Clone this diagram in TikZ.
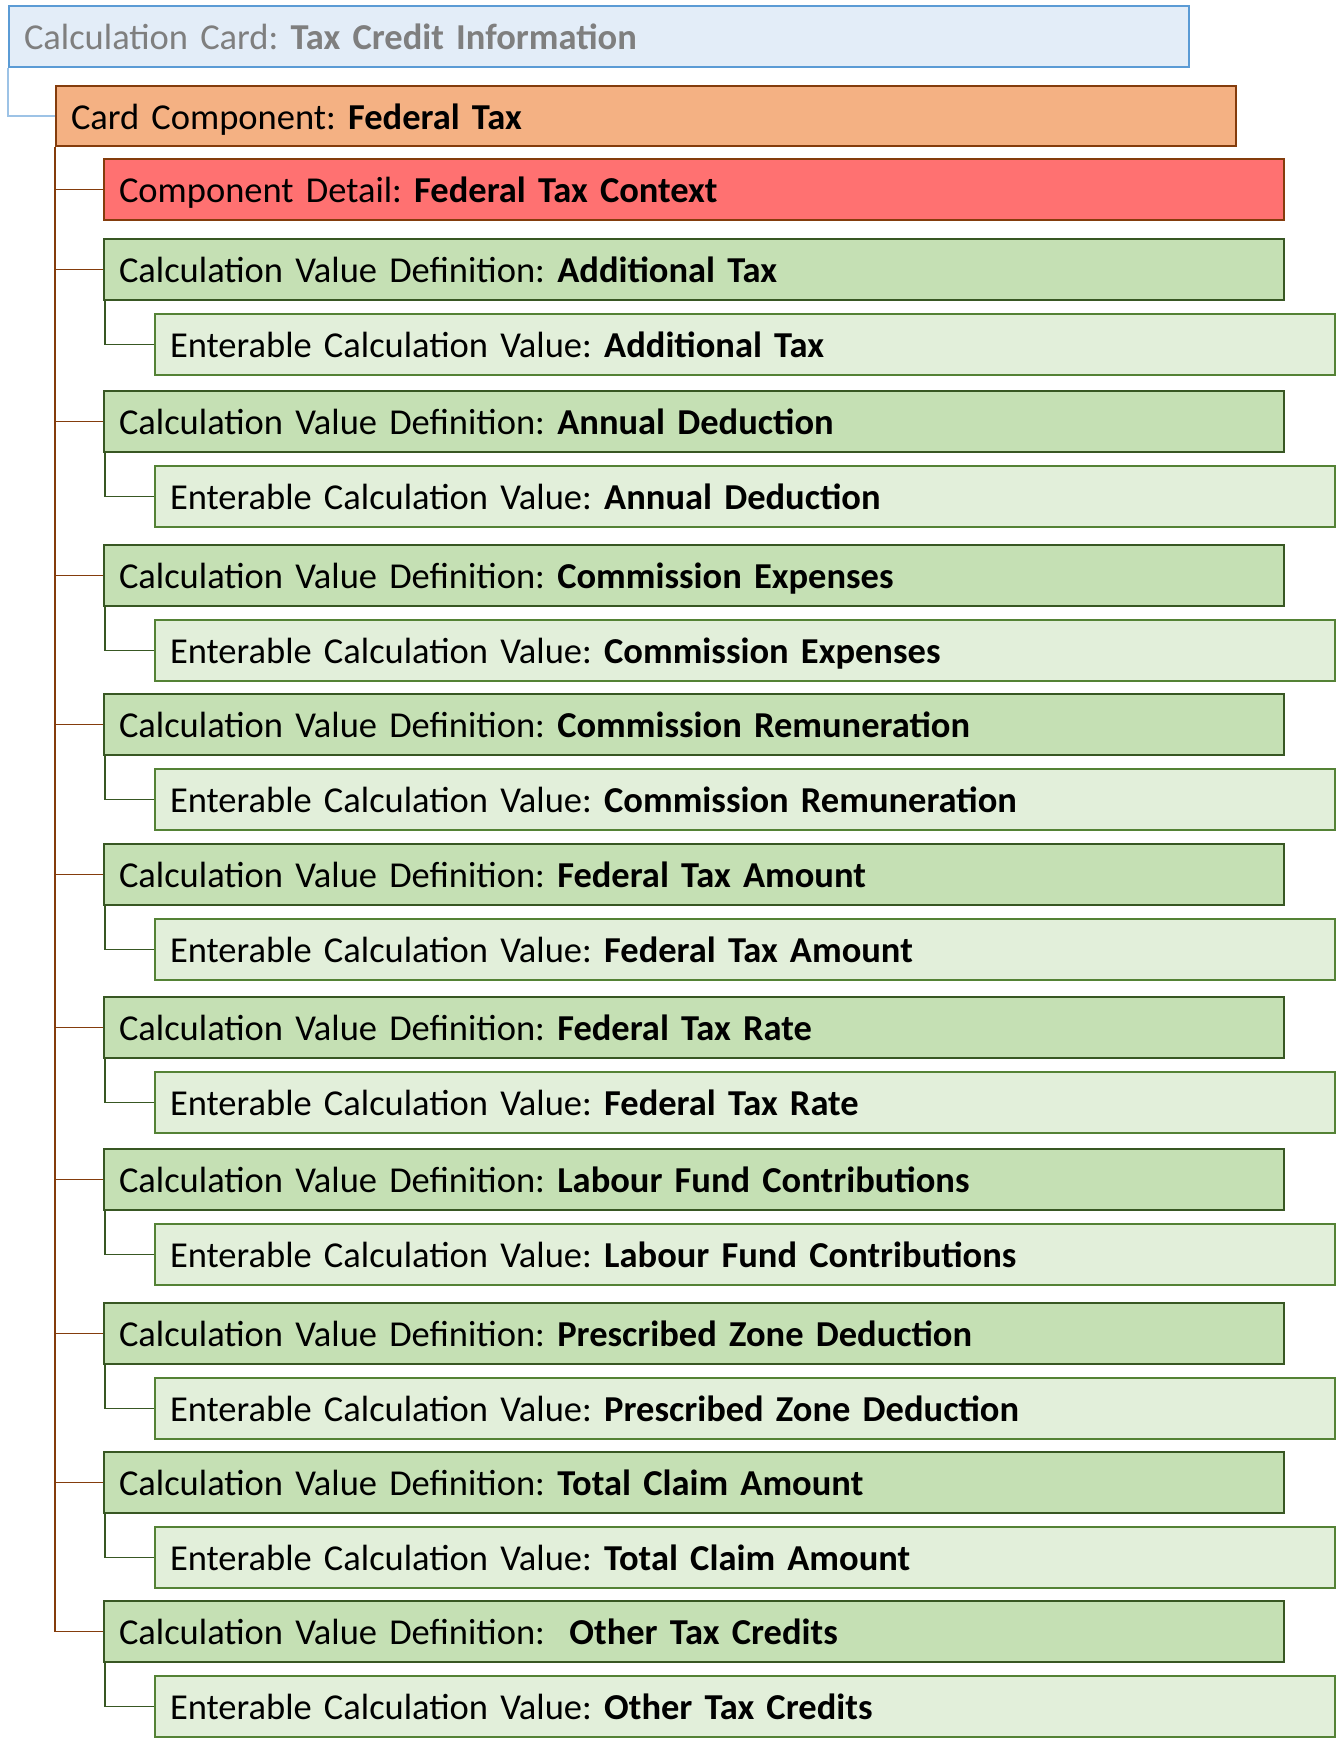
\documentclass[tikz,border=0pt]{standalone}
\usepackage{fontspec}
\setmainfont{Carlito}
\frenchspacing
\definecolor{topfill}{HTML}{E3EDF8}
\definecolor{topdraw}{HTML}{5B9BD5}
\definecolor{toptext}{HTML}{7F7F7F}
\definecolor{topcon}{HTML}{9DC3E6}
\definecolor{ccfill}{HTML}{F4B183}
\definecolor{brown}{HTML}{843C0C}
\definecolor{cdfill}{HTML}{FF7171}
\definecolor{cvdfill}{HTML}{C5E0B4}
\definecolor{cvddraw}{HTML}{385723}
\definecolor{ecvfill}{HTML}{E2EFDA}
\definecolor{ecvdraw}{HTML}{548235}
\tikzset{
  box/.style={rectangle, anchor=north west, line width=2pt, minimum width=1180pt,
    minimum height=61pt, inner xsep=15pt, inner ysep=0pt, text width=1150pt, align=left,
    text height=30pt, text depth=4pt, font=\fontsize{36.5}{44}\selectfont\frenchspacing},
  topbox/.style={box, fill=topfill, draw=topdraw, text=toptext, minimum width=1178pt},
  ccbox/.style={box, fill=ccfill, draw=brown, minimum height=60pt},
  cdbox/.style={box, fill=cdfill, draw=brown},
  cvdbox/.style={box, fill=cvdfill, draw=cvddraw},
  ecvbox/.style={box, fill=ecvfill, draw=ecvdraw},
  topline/.style={draw=topcon, line width=1.3pt},
  brownline/.style={draw=brown, line width=1.3pt},
  greenline/.style={draw=cvddraw, line width=1.3pt},
}
\begin{document}
\begin{tikzpicture}[x=1pt,y=-1pt]
\useasboundingbox (0,0) rectangle (1337,1751);
\node[topbox] (top) at (8,5) {Calculation Card: \textbf{Tax Credit Information}};
\node[ccbox] (cc) at (55,85) {Card Component: \textbf{Federal Tax}};
\node[cdbox] (cd) at (103,158) {Component Detail: \textbf{Federal Tax Context}};
\foreach \i/\y/\name/\sp in {1/238/Additional Tax/{},2/390/Annual Deduction/{},3/544/Commission Expenses/{},4/693/Commission Remuneration/{},5/843/Federal Tax Amount/{},6/996/Federal Tax Rate/{},7/1148/Labour Fund Contributions/{},8/1302/Prescribed Zone Deduction/{},9/1451/Total Claim Amount/{},10/1600/Other Tax Credits/{\ }}{
  \node[cvdbox] (cvd\i) at (103,\y) {Calculation Value Definition: \sp\textbf{\name}};
  \node[ecvbox] (ecv\i) at (154,\y+75) {Enterable Calculation Value: \textbf{\name}};
  \draw[greenline] ([xshift=2pt]cvd\i.south west) |- (ecv\i.west);
  \draw[brownline] (cc.south west) |- (cvd\i.west);
}
\draw[topline] (top.south west) |- (cc.west);
\draw[brownline] (cc.south west) |- (cd.west);
\end{tikzpicture}
\end{document}
